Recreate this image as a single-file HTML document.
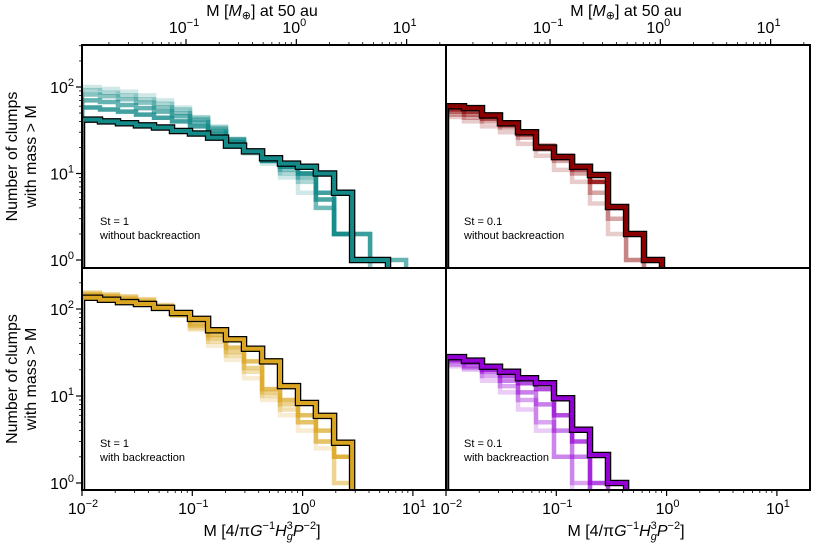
<!DOCTYPE html>
<html><head><meta charset="utf-8"><style>
body{margin:0;background:#fff}
svg{display:block;font-family:"Liberation Sans","DejaVu Sans",sans-serif}
</style></head><body>
<svg id="c" width="814" height="547" viewBox="0 0 814 547"></svg>
<script>
const binEdges=[0.01,0.01456,0.0212,0.0309,0.0450,0.0655,0.0954,0.139,0.202,0.294,0.429,0.624,0.909,1.32,1.93,2.81,4.09,5.95,8.67];
const tealSeries=[
[100,95,88,80,70,58,45,35,25,17,13,9,6,4,2,1],
[92,86,80,72,64,55,44,34,25,18,14,10,8,5,2,1],
[82,78,72,66,58,50,42,33,25,18,14,11,9,4,2,2,1],
[70,67,62,57,52,46,39,31,24,18,14,12,10,5,2,2,1,1],
[58,55,52,48,44,40,35,29,23,18,14,12,10,6,2,1,1],
[42,40,38,36,34,31,29,26,21,18,15,13,12,10,6,1,1]];
const redSeries=[
[45,40,35,30,22,16,11,8,4.5,2,1],
[48,44,40,34,26,19,14,10,6,3,1],
[52,48,43,36,28,21,16,11,8,4,2,1],
[55,52,45,37,29,20,15,11.5,8,4,2,1],
[60,57,47,38,30,20,15.5,12,9.6,4.1,2,1]];
const goldSeries=[
[150,145,138,128,112,88,58,38,26,16,9,6,4,2.5,1],
[155,148,140,130,110,86,60,42,29,19,10,7,5,3,1],
[150,142,135,125,108,84,64,46,32,21,11,8,5,3,2],
[145,138,130,120,105,86,67,50,36,25,12,9,6,4,2],
[135,128,120,114,103,90,77,57,45,35,25,13,8.3,5.9,2.9]];
const purpleSeries=[
[22,20,15,11,7,4,2],
[23,21,17,13,9,5,2,1],
[25,22,19,15,11,8,4,2],
[26,24,20,17,14,12,6,3,1],
[28,25.5,21.7,19,16,14,9.4,4.1,2.1,1]];
const xTickExps=[-2,-1,0,1];
const yTickExps=[0,1,2];
const topTickExps=[-1,0,1];
const earthFactor=1.14;

const NS="http://www.w3.org/2000/svg";
const svg=document.getElementById('c');
function el(t,a,p){const e=document.createElementNS(NS,t);for(const k in a)e.setAttribute(k,a[k]);(p||svg).appendChild(e);return e;}
const DX=110.3;
const panels=[
 {x0:82,x1:446,y0:45,y1:268,yDec:87,yS:86.5,data:tealSeries,ops:[0.2,0.35,0.5,0.65,0.8],col:'#138a88',name:'st1-no-backreaction',lab:['St = 1','without backreaction'],left:true,top:true},
 {x0:446,x1:810,y0:45,y1:268,yDec:87,yS:86.5,data:redSeries,ops:[0.2,0.35,0.5,0.7],col:'#8b0000',name:'st01-no-backreaction',lab:['St = 0.1','without backreaction'],left:false,top:true},
 {x0:82,x1:446,y0:268,y1:490,yDec:309,yS:87,data:goldSeries,ops:[0.2,0.35,0.5,0.7],col:'#daa520',name:'st1-backreaction',lab:['St = 1','with backreaction'],left:true,top:false},
 {x0:446,x1:810,y0:268,y1:490,yDec:309,yS:87,data:purpleSeries,ops:[0.2,0.35,0.5,0.7],col:'#9400d3',name:'st01-backreaction',lab:['St = 0.1','with backreaction'],left:false,top:false}];
panels.forEach((p,pi)=>{
 const g=el('g',{});
 
 
 const xs=m=>p.x0+(Math.log10(m)+2)*DX;
 const ys=n=>p.yDec+(2-Math.log10(n))*p.yS;
 const cid='clip'+pi;
 const cp=el('clipPath',{id:cid},g);el('rect',{x:p.x0,y:p.y0,width:p.x1-p.x0,height:p.y1-p.y0},cp);
 const sg=el('g',{'clip-path':'url(#'+cid+')'},g);
 const nS=p.data.length;
 p.data.forEach((s,si)=>{
  let d='M'+xs(binEdges[0])+','+(p.y1+5);
  s.forEach((v,i)=>{d+=' V'+ys(v).toFixed(1)+' H'+xs(binEdges[i+1]).toFixed(1);});
  d+=' V'+(p.y1+5);
  const last=si===nS-1;
  if(last){const o=el('path',{d:d,fill:'none',stroke:'#000','stroke-width':6.5},sg);
   }
  const op=last?1:p.ops[si];
  const ln=el('path',{d:d,fill:'none',stroke:p.col,'stroke-width':last?4:4.5,'stroke-opacity':op},sg);
  
  
 });
 const fr=el('rect',{x:p.x0,y:p.y0,width:p.x1-p.x0,height:p.y1-p.y0,fill:'none',stroke:'#000','stroke-width':2},g);
 
 const t=el('text',{x:p.x0+18,y:p.y1-43,'font-size':11},g);t.textContent=p.lab[0];
 
 const t2=el('text',{x:p.x0+18,y:p.y1-29,'font-size':11},g);t2.textContent=p.lab[1];
 
 if(p.left){
  yTickExps.forEach(e=>{for(let k=1;k<10;k++){const v=k*Math.pow(10,e);const y=ys(v);if(y<p.y0||y>p.y1)continue;
    el('line',{x1:p.x0,x2:p.x0-(k===1?6:3),y1:y,y2:y,stroke:'#000','stroke-width':k===1?1.2:0.8},g);}
   const tl=el('text',{x:p.x0-8,y:ys(Math.pow(10,e))+6,'font-size':16,'text-anchor':'end'},g);
   
   const a=document.createElementNS(NS,'tspan');a.textContent='10';tl.appendChild(a);
   const b=document.createElementNS(NS,'tspan');b.setAttribute('dy','-7');b.setAttribute('font-size','11');b.textContent=String(e);tl.appendChild(b);
  });
  const cy=(p.y0+p.y1)/2;
  const yl=el('text',{x:0,y:0,'font-size':16,'text-anchor':'middle',transform:'translate(17,'+cy+') rotate(-90)'},g);
  yl.textContent='Number of clumps';
  const yl2=el('text',{x:0,y:0,'font-size':16,'text-anchor':'middle',transform:'translate(36,'+cy+') rotate(-90)'},g);
  yl2.textContent='with mass > M';
 }
 if(p.top){
  [-2,-1,0,1].forEach(e=>{for(let k=1;k<10;k++){const v=k*Math.pow(10,e)/earthFactor;const x=xs(v);if(x<p.x0||x>p.x1)continue;
   el('line',{x1:x,x2:x,y1:p.y0,y2:p.y0-(k===1?6:3),stroke:'#000','stroke-width':k===1?1.2:0.8},g);}});
  topTickExps.forEach(e=>{const x=xs(Math.pow(10,e)/earthFactor);
   const tl=el('text',{x:x-2,y:33,'font-size':16,'text-anchor':'middle'},g);
   
   const a=document.createElementNS(NS,'tspan');a.textContent='10';tl.appendChild(a);
   const b=document.createElementNS(NS,'tspan');b.setAttribute('dy','-7');b.setAttribute('font-size','11');b.textContent=e<0?'\u2212'+(-e):String(e);tl.appendChild(b);});
  const tt=el('text',{x:p.x0+180,y:16,'font-size':16,'text-anchor':'middle'},g);
  tt.innerHTML='M [<tspan font-style="italic">M</tspan><tspan font-size="11" dy="3">\u2295</tspan><tspan dy="-3">] at 50 au</tspan>';
  
 } else {
  xTickExps.forEach(e=>{for(let k=1;k<10;k++){const v=k*Math.pow(10,e);const x=xs(v);if(x<p.x0-0.5||x>p.x1)continue;
   el('line',{x1:x,x2:x,y1:p.y1,y2:p.y1+(k===1?6:3),stroke:'#000','stroke-width':k===1?1.2:0.8},g);}
   const tl=el('text',{x:xs(Math.pow(10,e))+1,y:514,'font-size':16,'text-anchor':'middle'},g);
   
   const a=document.createElementNS(NS,'tspan');a.textContent='10';tl.appendChild(a);
   const b=document.createElementNS(NS,'tspan');b.setAttribute('dy','-7');b.setAttribute('font-size','11');b.textContent=e<0?'\u2212'+(-e):String(e);tl.appendChild(b);});
  const xt=el('text',{x:p.x0+180,y:536,'font-size':16,'text-anchor':'middle'},g);
  xt.innerHTML='M [4/\u03c0<tspan font-style="italic">G</tspan><tspan font-size="11" dy="-7">\u22121</tspan><tspan font-style="italic" dy="7">H</tspan><tspan font-size="11" dy="-7">3</tspan><tspan font-size="11" font-style="italic" dx="-6" dy="11">g</tspan><tspan font-style="italic" dy="-4">P</tspan><tspan font-size="11" dy="-7">\u22122</tspan><tspan dy="7">]</tspan>';
  
 }
});
</script>
</body></html>
